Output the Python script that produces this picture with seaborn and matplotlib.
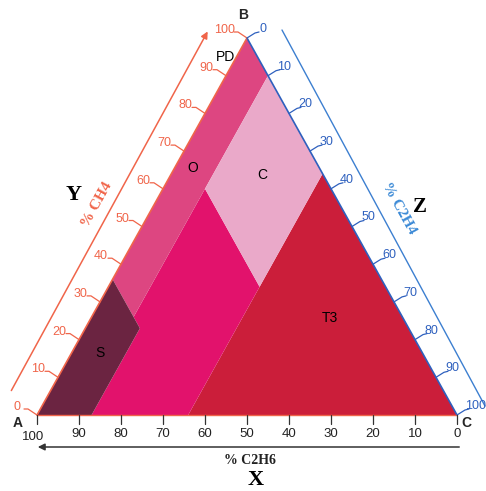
import numpy as np
import matplotlib
matplotlib.use("Agg")
import matplotlib.pyplot as plt
import seaborn as sns

# ---- data (percentages: CH4, C2H4; C2H6 = 100 - CH4 - C2H4) ----
t3_ch4 = [64, 0, 0]
t3_c2h4 = [36, 100, 36]
t2_ch4 = [0, 0, 34, 60, 26, 23]
t2_c2h4 = [13, 36, 36, 10, 10, 13]
o_ch4 = [100, 90, 60, 26, 36]
o_c2h4 = [0, 10, 10, 10, 0]
c_ch4 = [90, 64, 34, 60]
c_c2h4 = [10, 36, 36, 10]
s_ch4 = [0, 0, 23, 36]
s_c2h4 = [0, 13, 13, 0]

zone_labels = ["PD", "O", "C", "S", "T3"]
label_ch4 = [95, 65.5, 63.7, 16.4, 25.7]
label_c2h4 = [-2.7, 4.4, 21.8, 6.8, 57]

tick_vals = [0, 10, 20, 30, 40, 50, 60, 70, 80, 90, 100]

# ---- geometry of the triangle (pixel-like frame) ----
A = np.array([37.0, 415.0])
B = np.array([247.0, 38.0])
C = np.array([457.0, 415.0])


def tern(ch4, c2h4):
    ch4 = np.asarray(ch4, dtype=float) / 100
    c2h4 = np.asarray(c2h4, dtype=float) / 100
    x = A[0] + c2h4 * (C[0] - A[0]) + ch4 * (B[0] - A[0])
    y = A[1] + ch4 * (B[1] - A[1])
    return x, y


sns.set_theme(style="white")
plt.rcParams["font.family"] = ["Liberation Sans", "DejaVu Sans"]

red_ax = "#F0654A"
blue_ax = "#2E60BE"

fig = plt.figure(figsize=(4.86, 4.91), dpi=100)
ax = fig.add_axes([0, 0, 1, 1])
ax.set_xlim(0, 486)
ax.set_ylim(491, 0)
ax.axis("off")

zones = [
    (t3_ch4, t3_c2h4, "#CB1E3A"),
    (t2_ch4, t2_c2h4, "#E2126C"),
    (o_ch4, o_c2h4, "#DD4681"),
    (c_ch4, c_c2h4, "#EAA9C9"),
    (s_ch4, s_c2h4, "#6B2441"),
]
for zc, zz, col in zones:
    x, y = tern(zc, zz)
    ax.fill(x, y, color=col, lw=0)

# triangle edges
ax.plot([A[0], B[0]], [A[1], B[1]], color=red_ax, lw=1.2)
ax.plot([B[0], C[0]], [B[1], C[1]], color=blue_ax, lw=1.2)
ax.plot([A[0], C[0]], [A[1], C[1]], color=red_ax, lw=1.0)

# left axis: % CH4
for v in tick_vals:
    ex, ey = tern(v, 0)
    ax.plot([ex, ex - 9, ex - 13], [ey, ey - 6, ey - 6], color=red_ax, lw=0.9)
    ax.text(ex - 20 - (2 if v == 100 else 0), ey - 8, str(v), color=red_ax,
            fontsize=9, ha="center", va="center")
ax.annotate("", xy=(209, 29), xytext=(10, 393),
            arrowprops=dict(arrowstyle="-|>", color=red_ax, lw=1.1,
                            mutation_scale=10))
ax.text(97, 205, "% CH4", color=red_ax, fontsize=11, fontweight="bold",
        family="Liberation Serif", rotation=61, ha="center", va="center")
ax.text(74, 195, "Y", color="black", fontsize=16, fontweight="bold",
        family="Liberation Serif", ha="center", va="center")

# right axis: % C2H4
for v in tick_vals:
    ex, ey = tern(100 - v, v)
    ax.plot([ex, ex + 8, ex + 12], [ey, ey - 5, ey - 6], color=blue_ax, lw=0.9)
    ax.text(ex + 16 + (3 if v == 100 else 0), ey - 9, str(v), color=blue_ax,
            fontsize=9, ha="center", va="center")
ax.plot([282, 485], [30, 406], color="#3C7FD0", lw=1.0)
ax.text(399, 208, "% C2H4", color="#3C8AD6", fontsize=11, fontweight="bold",
        family="Liberation Serif", rotation=-61, ha="center", va="center")
ax.text(420, 207, "Z", color="black", fontsize=15, fontweight="bold",
        family="Liberation Serif", ha="center", va="center")

# bottom axis: % C2H6
for v in tick_vals:
    ex, ey = tern(0, 100 - v)
    ax.plot([ex, ex], [ey, ey + 9], color="#333333", lw=0.9)
    ax.text(ex - (4 if v == 100 else 0), ey + 19 + (3 if v == 100 else 0),
            str(v), color="#222222", fontsize=9.5, ha="center", va="center")
ax.annotate("", xy=(35, 447), xytext=(462, 447),
            arrowprops=dict(arrowstyle="-|>", color="#333333", lw=1.1,
                            mutation_scale=10))
ax.text(250, 460, "% C2H6", color="#222222", fontsize=10, fontweight="bold",
        family="Liberation Serif", ha="center", va="center")
ax.text(256, 480, "X", color="black", fontsize=16, fontweight="bold",
        family="Liberation Serif", ha="center", va="center")

# vertices
ax.text(18, 423, "A", fontsize=10, fontweight="bold", ha="center", va="center")
ax.text(243, 15, "B", fontsize=10, fontweight="bold", ha="center", va="center")
ax.text(466, 423, "C", fontsize=10, fontweight="bold", ha="center", va="center")

# zone labels
for name, lc, lz in zip(zone_labels, label_ch4, label_c2h4):
    x, y = tern(lc, lz)
    ax.text(x, y, name, fontsize=10, color="black", ha="center", va="center")

fig.savefig("out.png", dpi=100)
